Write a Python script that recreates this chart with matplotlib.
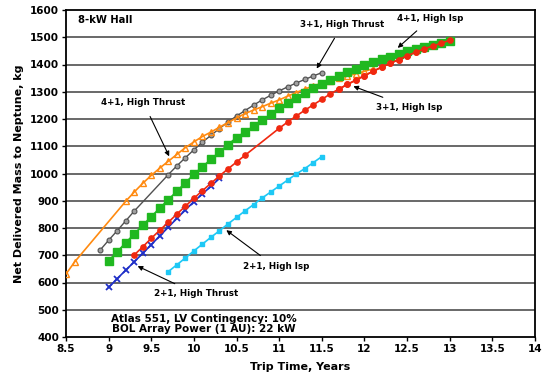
import matplotlib
matplotlib.use("Agg")
import matplotlib.pyplot as plt

plt.rcParams['font.family'] = ['DejaVu Sans']

# ---- data ----
x_41ht = [8.5, 8.6, 9.2, 9.3, 9.4, 9.5, 9.6, 9.7, 9.8, 9.9, 10.0, 10.1, 10.2, 10.3, 10.4, 10.5,
          10.6, 10.7, 10.8, 10.9, 11.0, 11.1, 11.2, 11.3, 11.4, 11.5, 11.6, 11.7, 11.8, 11.9, 12.0, 12.1]
y_41ht = [631, 675, 898, 932, 964, 993, 1020, 1045, 1070, 1095, 1116, 1136, 1152, 1170, 1187, 1204,
          1220, 1233, 1245, 1258, 1270, 1284, 1297, 1310, 1321, 1332, 1341, 1350, 1358, 1366, 1375, 1384]

x_31ht = [8.9, 9.0, 9.1, 9.2, 9.3, 9.7, 9.8, 9.9, 10.0, 10.1, 10.2, 10.3, 10.4, 10.5, 10.6,
          10.7, 10.8, 10.9, 11.0, 11.1, 11.2, 11.3, 11.4, 11.5]
y_31ht = [719, 755, 790, 826, 862, 996, 1028, 1058, 1087, 1115, 1140, 1165, 1189, 1211, 1231,
          1251, 1270, 1287, 1303, 1318, 1332, 1345, 1358, 1370]

x_41hi = [9.0, 9.1, 9.2, 9.3, 9.4, 9.5, 9.6, 9.7, 9.8, 9.9, 10.0, 10.1, 10.2, 10.3, 10.4, 10.5,
          10.6, 10.7, 10.8, 10.9, 11.0, 11.1, 11.2, 11.3, 11.4, 11.5, 11.6, 11.7, 11.8, 11.9, 12.0,
          12.1, 12.2, 12.3, 12.4, 12.5, 12.6, 12.7, 12.8, 12.9, 13.0]
y_41hi = [680, 713, 746, 778, 810, 842, 873, 904, 935, 966, 997, 1025, 1052, 1079, 1106, 1132,
          1153, 1174, 1196, 1218, 1240, 1260, 1278, 1296, 1313, 1329, 1344, 1358, 1372, 1385, 1397,
          1408, 1419, 1429, 1439, 1448, 1456, 1464, 1471, 1478, 1486]

x_31hi = [9.3, 9.4, 9.5, 9.6, 9.7, 9.8, 9.9, 10.0, 10.1, 10.2, 10.3, 10.4, 10.5, 10.6,
          11.0, 11.1, 11.2, 11.3, 11.4, 11.5, 11.6, 11.7, 11.8, 11.9, 12.0, 12.1, 12.2, 12.3,
          12.4, 12.5, 12.6, 12.7, 12.8, 12.9, 13.0]
y_31hi = [701, 731, 762, 792, 821, 851, 880, 909, 937, 964, 991, 1017, 1042, 1067,
          1166, 1189, 1211, 1232, 1252, 1272, 1292, 1310, 1327, 1343, 1359, 1375, 1390, 1404,
          1418, 1432, 1445, 1457, 1468, 1478, 1489]

x_21ht = [9.0, 9.1, 9.2, 9.3, 9.4, 9.5, 9.6, 9.7, 9.8, 9.9, 10.0, 10.1, 10.2, 10.3]
y_21ht = [582, 614, 645, 676, 707, 739, 771, 803, 835, 866, 897, 925, 953, 982]

x_21hi = [9.7, 9.8, 9.9, 10.0, 10.1, 10.2, 10.3, 10.4, 10.5, 10.6, 10.7, 10.8, 10.9, 11.0,
          11.1, 11.2, 11.3, 11.4, 11.5]
y_21hi = [640, 665, 690, 716, 741, 766, 790, 815, 839, 863, 886, 910, 932, 954,
          976, 998, 1018, 1040, 1062]

x_ticks = [8.5, 9, 9.5, 10, 10.5, 11, 11.5, 12, 12.5, 13, 13.5, 14]
x_ticklabels = ['8.5', '9', '9.5', '10', '10.5', '11', '11.5', '12', '12.5', '13', '13.5', '14']
y_ticks = list(range(400, 1601, 100))

# ---- figure ----
fig = plt.figure(figsize=(5.43, 3.81), dpi=100)
ax = fig.add_axes([66/543, 44/381, (535-66)/543, (337-10)/381])

for yv in y_ticks[1:-1]:
    ax.axhline(yv, color='#404040', lw=1.1, zorder=1)

ax.plot(x_21hi, y_21hi, color='#1EC8F5', lw=1.2, marker='s', ms=2.8, zorder=3)
ax.plot(x_21ht, y_21ht, color='#2030C8', lw=1.2, marker='x', ms=4, mew=1.3, zorder=3)
ax.plot(x_31hi, y_31hi, color='#F02810', lw=1.2, marker='o', ms=3.8, zorder=4)
ax.plot(x_41hi, y_41hi, color='#20B820', lw=1.2, marker='s', ms=5.5, zorder=5)
ax.plot(x_31ht, y_31ht, color='#505050', lw=1.0, marker='o', ms=3.5, mfc='#a0a0a0',
        mec='#505050', mew=0.8, zorder=4)
ax.plot(x_41ht, y_41ht, color='#FF8A10', lw=1.2, marker='^', ms=4.2, mfc='none',
        mec='#FF8A10', mew=1.0, zorder=4)
# redraw red above green at high end
ax.plot(x_31hi[-14:], y_31hi[-14:], color='#F02810', lw=1.2, marker='o', ms=3.8, zorder=6)

ax.set_xlim(8.5, 14)
ax.set_ylim(400, 1600)
ax.set_xticks(x_ticks)
ax.set_xticklabels(x_ticklabels)
ax.set_yticks(y_ticks)
for lab in ax.get_xticklabels() + ax.get_yticklabels():
    lab.set_fontweight('bold')
    lab.set_fontsize(7.5)
ax.tick_params(direction='out', length=3, width=1, pad=2)
for s in ax.spines.values():
    s.set_linewidth(1.3)
    s.set_color('black')

ax.set_xlabel('Trip Time, Years', fontsize=8, fontweight='bold', labelpad=6)
ax.set_ylabel('Net Delivered Mass to Neptune, kg', fontsize=8, fontweight='bold', labelpad=4)

tk = dict(fontsize=6.3, fontweight='bold', ha='center', va='center')
ax.text(8.64, 1563, '8-kW Hall', fontsize=7.2, fontweight='bold', ha='left', va='center')

def ann(text, xytext, xy):
    ax.annotate(text, xy=xy, xytext=xytext, textcoords='data',
                arrowprops=dict(arrowstyle='-|>', color='black', lw=0.8,
                                mutation_scale=7, shrinkA=5, shrinkB=0),
                zorder=10, **tk)

ann('3+1, High Thrust', (11.74, 1545), (11.44, 1385))
ann('4+1, High Isp', (12.77, 1567), (12.39, 1461))
ann('3+1, High Isp', (12.52, 1244), (11.87, 1320))
ann('4+1, High Thrust', (9.41, 1259), (9.71, 1063))
ann('2+1, High Thrust', (10.03, 558), (9.34, 660))
ann('2+1, High Isp', (10.96, 657), (10.38, 792))

ax.text(10.12, 448, 'Atlas 551, LV Contingency: 10%\nBOL Array Power (1 AU): 22 kW',
        fontsize=7.5, fontweight='bold', ha='center', va='center', linespacing=1.1)

fig.savefig('out.png', dpi=100)
